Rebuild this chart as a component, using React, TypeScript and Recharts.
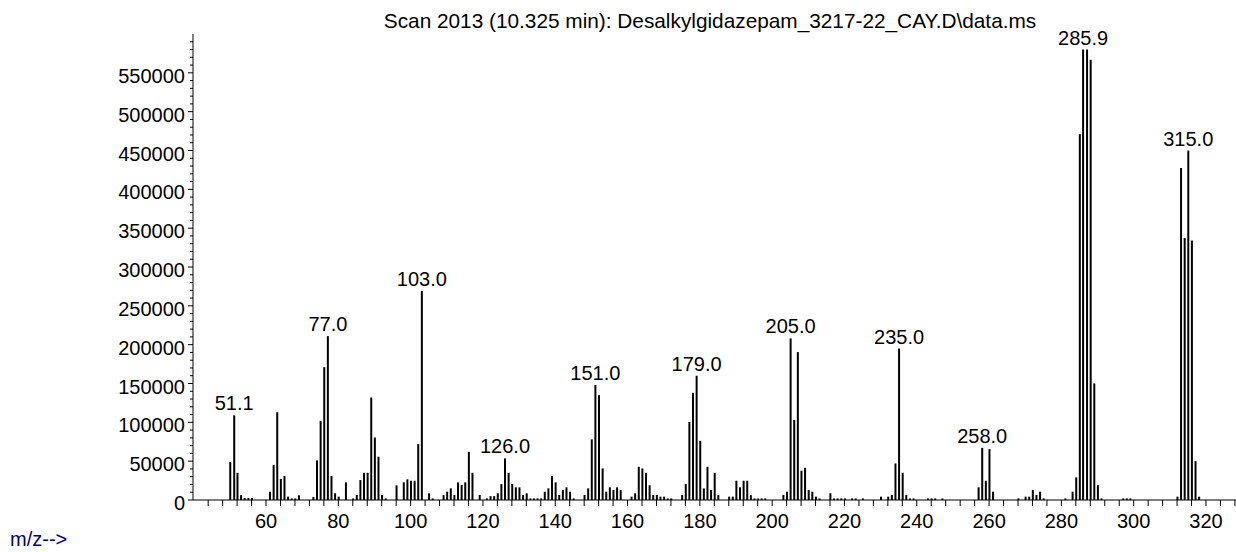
import { Bar, BarChart, LabelList, XAxis, YAxis } from "recharts";

// m/z positions of the sticks and their abundances
const mz = [
  50, 51.1, 52, 53, 54, 55, 56, 61, 62, 63, 64, 65, 66, 67, 68, 69, 73, 74, 75, 76, 77, 78, 79, 80,
  82, 84, 85, 86, 87, 88, 89, 90, 91, 92, 93, 96, 98, 99, 100, 101, 102, 103, 105, 106, 109, 110,
  111, 112, 113, 114, 115, 116, 117, 119, 121, 122, 123, 124, 125, 126, 127, 128, 129, 130, 131,
  132, 133, 134, 135, 136, 137, 138, 139, 140, 141, 142, 143, 144, 145, 148, 149, 150, 151, 152,
  153, 154, 155, 156, 157, 158, 161, 162, 163, 164, 165, 166, 167, 168, 169, 170, 171, 172, 175,
  176, 177, 178, 179, 180, 181, 182, 183, 184, 185, 188, 189, 190, 191, 192, 193, 194, 195, 196,
  197, 198, 203, 204, 205, 206, 207, 208, 209, 210, 211, 212, 213, 216, 217, 218, 219, 220, 222,
  223, 225, 230, 232, 233, 234, 235, 236, 237, 238, 239, 243, 244, 245, 247, 257, 258, 259, 260,
  261, 268, 270, 271, 272, 273, 274, 275, 281, 283, 284, 285, 285.9, 287, 288, 289, 290, 291, 297,
  298, 299, 312, 313, 314, 315, 316, 317, 318,
];

const abundance = [
  49000, 109000, 35000, 6400, 2500, 2500, 2500, 10700, 45000, 113000, 27000, 31000, 4300, 2000,
  2000, 6000, 4000, 51000, 102000, 171000, 211000, 31000, 8600, 4300,
  22700, 2000, 6400, 25700, 35000, 35000, 132000, 80500, 55700, 6400, 2000, 18900, 22700, 26600,
  24800, 24800, 72000, 269000, 8600, 2000, 6400, 10700,
  15000, 6400, 22700, 19300, 22700, 62000, 35000, 6400, 2000, 5000, 5000, 8600, 20500, 53500, 35000,
  20500, 16300, 16300, 6400,
  8600, 2000, 2000, 2000, 2000, 10700, 15000, 31000, 22700, 6400, 12800, 16300, 10700, 2000, 6400,
  15000, 78000, 148000, 135000,
  40700, 10700, 16300, 12800, 16300, 12800, 4300, 8600, 42800, 40700, 35000, 18900, 6400, 6400, 4300,
  4300, 2000, 2000, 6400,
  20500, 100600, 138000, 160000, 76200, 15000, 42800, 12800, 35000, 6400, 4300, 4300, 24800, 16300,
  24800, 24800, 6400, 2000, 2000,
  2000, 2000, 6400, 10700, 208000, 103000, 190500, 37700, 41500, 12800, 10700, 4300, 2000, 8600, 2000,
  2000, 2000, 2000, 2000,
  2000, 2000, 4300, 4300, 6400, 47100, 195000, 35000, 6400, 2000, 2000, 2000, 2000, 2000, 2000, 16300,
  67200, 24800, 65500,
  10700, 2000, 4300, 4300, 12800, 6400, 10700, 2000, 2000, 10700, 29100, 471000, 580000, 580000,
  567000, 150000, 19000, 2000, 2000,
  2000, 2000, 4300, 427500, 337500, 450000, 334000, 50000, 4300,
];

const labeledPeaks = [51.1, 77, 103, 126, 151, 179, 205, 235, 258, 285.9, 315];

const xTicks = Array.from({ length: 72 }, (_, i) => 44 + i * 4);
const yTicks = Array.from({ length: 60 }, (_, i) => i * 10000);

const title = "Scan 2013 (10.325 min): Desalkylgidazepam_3217-22_CAY.D\\data.ms";
const font = "'Liberation Sans', Arial, sans-serif";

const data = mz.map((m, i) => ({
  mz: m,
  abundance: abundance[i],
  label: labeledPeaks.includes(m) ? m.toFixed(1) : "",
}));

const XTick = (props: any) => {
  const { x, y, payload } = props;
  const v = payload.value;
  return (
    <g>
      <line x1={x} x2={x} y1={y} y2={y + 6} stroke="#000" />
      {v % 20 === 0 && (
        <text x={x} y={y + 28} textAnchor="middle" fontSize={20} fill="#000" fontFamily={font}>
          {v}
        </text>
      )}
    </g>
  );
};

const YTick = (props: any) => {
  const { x, y, payload } = props;
  const v = payload.value;
  const major = v % 50000 === 0;
  return (
    <g>
      <line x1={x - (major ? 5 : 3)} x2={x} y1={y} y2={y} stroke="#000" />
      {major && (
        <text x={x - 8} y={y + 10} textAnchor="end" fontSize={20} fill="#000" fontFamily={font}>
          {v}
        </text>
      )}
    </g>
  );
};

export default function App() {
  return (
    <div
      style={{
        position: "absolute",
        left: 0,
        top: 0,
        width: 1236,
        height: 552,
        background: "#fff",
        fontFamily: font,
      }}
    >
      <BarChart
        width={1236}
        height={552}
        data={data}
        margin={{ top: 34, right: 0, bottom: 0, left: 0 }}
      >
        <XAxis
          type="number"
          dataKey="mz"
          domain={[39.8, 328.3]}
          ticks={xTicks}
          interval={0}
          allowDataOverflow
          height={52}
          tickSize={0}
          tickMargin={0}
          tickLine={false}
          axisLine={{ stroke: "#000" }}
          tick={<XTick />}
        />
        <YAxis
          type="number"
          domain={[0, 600000]}
          ticks={yTicks}
          interval={0}
          allowDataOverflow
          width={193}
          tickSize={0}
          tickMargin={0}
          tickLine={false}
          axisLine={{ stroke: "#000" }}
          tick={<YTick />}
        />
        <Bar dataKey="abundance" fill="#000" barSize={2} isAnimationActive={false}>
          <LabelList
            dataKey="label"
            position="top"
            offset={5}
            fontSize={20}
            fill="#000"
            fontFamily={font}
          />
        </Bar>
      </BarChart>
      <svg
        width={1236}
        height={552}
        style={{ position: "absolute", left: 0, top: 0, pointerEvents: "none" }}
      >
        <text x={710} y={28} textAnchor="middle" fontSize={20.8} fill="#000" fontFamily={font}>
          {title}
        </text>
        <text x={10} y={546} fontSize={20} fill="#000080" fontFamily={font}>
          m/z--&gt;
        </text>
      </svg>
    </div>
  );
}
